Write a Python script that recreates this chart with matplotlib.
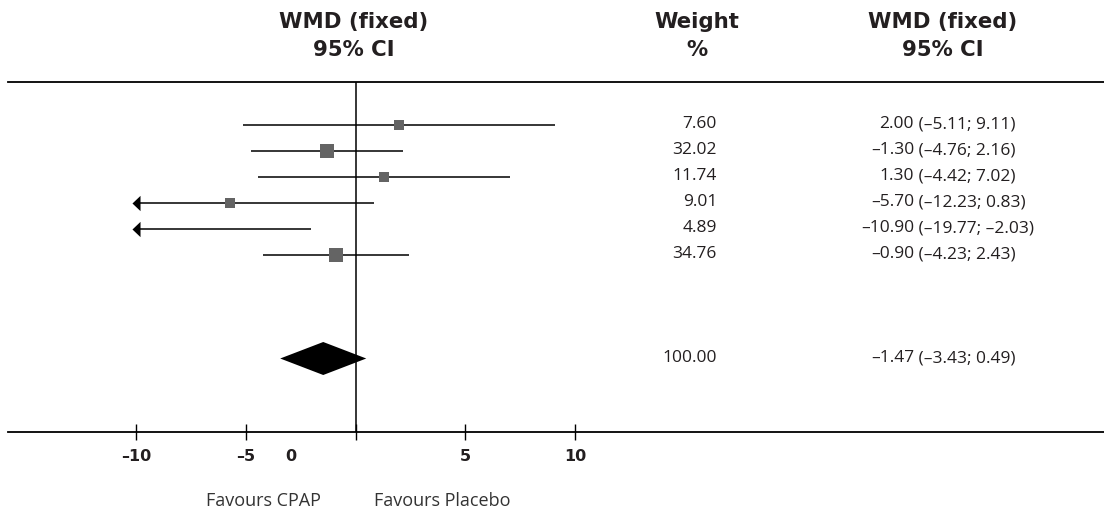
import matplotlib
matplotlib.use("Agg")
import matplotlib.pyplot as plt
from matplotlib.transforms import blended_transform_factory, ScaledTranslation

plt.rcParams['font.family'] = ['Open Sans', 'DejaVu Sans']

# study rows
weights = [7.60, 32.02, 11.74, 9.01, 4.89, 34.76]
wmd = [2.00, -1.30, 1.30, -5.70, -10.90, -0.90]
ci_low = [-5.11, -4.76, -4.42, -12.23, -19.77, -4.23]
ci_high = [9.11, 2.16, 7.02, 0.83, -2.03, 2.43]

# pooled estimate
total_weight = 100.00
pooled = -1.47
pooled_low = -3.43
pooled_high = 0.49

tick_vals = [-10, -5, 0, 5, 10]
tick_text = ['\u201310', '\u20135', '0', '5', '10']
left_label = 'Favours CPAP'
right_label = 'Favours Placebo'

W, H = 1104, 513
CLIP = 10
BOLD = ['DejaVu Sans']


def fmt(v):
    s = f"{abs(v):.2f}"
    return ('\u2013' + s) if v < 0 else s


fig = plt.figure(figsize=(W / 100, H / 100), dpi=100)
ax = fig.add_axes([0, 0, 1, 1])

# layout: zero line at 355.5 px, 21.95 px per unit; rows 26 px apart from 124.5 px
zx, ppu = 355.5, 21.95
ry0, rstep = 124.5, 26.0
ax.set_xlim(-zx / ppu, (W - zx) / ppu)
ax.set_ylim((H - ry0) / rstep, -ry0 / rstep)


def row_of(px):
    return (px - ry0) / rstep


top_row = row_of(82.3)
axis_row = row_of(432.3)
pooled_row = 9

ax.axhline(top_row, xmin=8 / W, color='black', lw=1.3)
ax.vlines(0, top_row, axis_row, color='black', lw=1.1)

arrow = [(-1, 0), (1, 1.9), (1, -1.9)]
for i, (w, m, lo, hi) in enumerate(zip(weights, wmd, ci_low, ci_high)):
    lo_c = max(lo, -CLIP)
    ax.plot([lo_c, min(hi, CLIP)], [i, i], color='black', lw=1.1, solid_capstyle='butt')
    if lo < -CLIP:
        ax.plot([-CLIP], [i], marker=arrow, ms=11, color='black', mew=0)
    if -CLIP <= m <= CLIP:
        side = 5 + 1.6 * w ** 0.5
        ax.plot([m], [i], marker='s', ms=side * 0.72, color='#646464', mew=0)

# pooled diamond
h = 16.5 / rstep
ax.fill([pooled_low, pooled, pooled_high, pooled],
        [pooled_row, pooled_row - h, pooled_row, pooled_row + h],
        color='black', lw=0)

# x axis
for s in ['top', 'left', 'right']:
    ax.spines[s].set_visible(False)
ax.spines['bottom'].set_position(('data', axis_row))
ax.spines['bottom'].set_bounds((8 - zx) / ppu, (W - zx) / ppu)
ax.spines['bottom'].set_linewidth(1.3)
ax.set_yticks([])
ax.set_xticks(tick_vals)
ax.set_xticklabels(tick_text)
ax.tick_params(axis='x', direction='inout', length=12, width=1, pad=6,
               labelsize=11.5, labelcolor='#231f20')
for lab in ax.get_xticklabels():
    lab.set_fontweight('bold')
    lab.set_family(BOLD)
# the "0" label sits left of its tick in the original
zero_lab = ax.get_xticklabels()[2]
zero_lab.set_transform(zero_lab.get_transform() + ScaledTranslation(-0.65, 0, fig.dpi_scale_trans))

# headers
hdr = dict(ha='center', va='center', fontsize=15.3, fontweight='bold', color='#231f20', family=BOLD)
for x, l1, l2 in [(354, 'WMD (fixed)', '95% CI'), (697, 'Weight', '%'), (943, 'WMD (fixed)', '95% CI')]:
    fig.text(x / W, 1 - 22 / H, l1, **hdr)
    fig.text(x / W, 1 - 50 / H, l2, **hdr)

# table columns
tr = blended_transform_factory(ax.transAxes, ax.transData)
body = dict(va='center', fontsize=12.5, color='#231f20', transform=tr)
rows = list(range(len(weights))) + [pooled_row]
all_w = weights + [total_weight]
all_m = wmd + [pooled]
all_lo = ci_low + [pooled_low]
all_hi = ci_high + [pooled_high]
for r, w, m, lo, hi in zip(rows, all_w, all_m, all_lo, all_hi):
    ax.text(717 / W, r, f"{w:.2f}", ha='right', **body)
    ax.text(914 / W, r, fmt(m), ha='right', **body)
    ax.text(914 / W, r, f" ({fmt(lo)}; {fmt(hi)})", ha='left', **body)

# favours labels
fig.text(263 / W, 1 - 501.5 / H, left_label, ha='center', va='center', fontsize=13, color='#333333')
fig.text(442 / W, 1 - 501.5 / H, right_label, ha='center', va='center', fontsize=13, color='#333333')

fig.savefig('out.png', dpi=100)
